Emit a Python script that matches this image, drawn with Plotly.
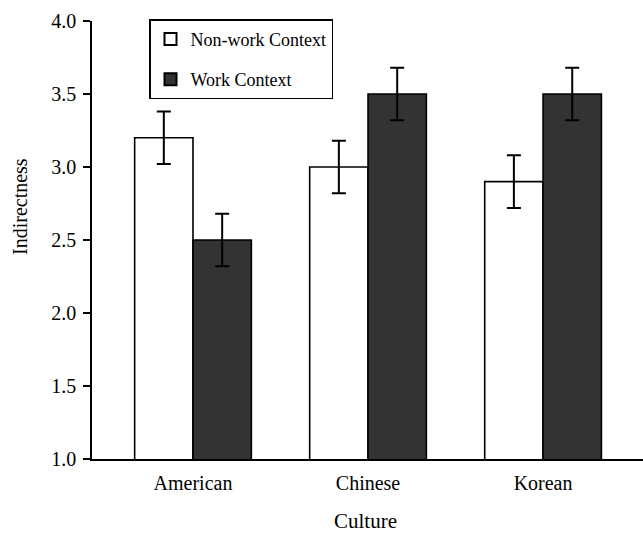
import plotly.graph_objects as go

cultures = ["American", "Chinese", "Korean"]
nonwork = [3.2, 3.0, 2.9]
work = [2.5, 3.5, 3.5]
nonwork_err = [0.18, 0.18, 0.18]
work_err = [0.18, 0.18, 0.18]
y_ticks = [1.0, 1.5, 2.0, 2.5, 3.0, 3.5, 4.0]

font = "Liberation Serif"
W, H = 643, 537
L, R, T, B = 92, 0, 21, 78
pw, ph = W - L - R, H - T - B

fig = go.Figure()
fig.add_trace(go.Bar(
    x=cultures, y=nonwork, name="Non-work Context", legendgroup="a",
    marker=dict(color="white", line=dict(color="black", width=1.6)),
    error_y=dict(type="data", array=nonwork_err, color="black", thickness=2, width=7),
))
fig.add_trace(go.Bar(
    x=cultures, y=work, name="Work Context", legendgroup="b",
    marker=dict(color="#333333", line=dict(color="black", width=1.6)),
    error_y=dict(type="data", array=work_err, color="black", thickness=2, width=7),
))

fig.update_layout(
    width=W, height=H,
    margin=dict(l=L, r=R, t=T, b=B, autoexpand=False),
    paper_bgcolor="white", plot_bgcolor="white",
    barmode="group", bargap=1/3, bargroupgap=0,
    font=dict(family=font, size=18, color="black"),
    legend=dict(
        x=(149 - L) / pw, y=1.004, xanchor="left", yanchor="top",
        bordercolor="black", borderwidth=1.5, bgcolor="white",
        font=dict(family=font, size=18), tracegroupgap=14,
        itemsizing="constant",
    ),
    showlegend=True,
)
fig.update_xaxes(
    range=[-0.577, 2.571], showline=True, linecolor="black", linewidth=1.6,
    ticks="", showgrid=False, zeroline=False, ticklabelstandoff=5,
    tickfont=dict(size=20), automargin=False,
)
fig.update_yaxes(
    range=[1.0, 4.0], tickvals=y_ticks, ticktext=[f"{v:.1f}" for v in y_ticks],
    showline=True, linecolor="black", linewidth=1.6, ticks="outside", ticklen=7,
    tickwidth=1.6, tickcolor="black", showgrid=False, zeroline=False,
    ticklabelstandoff=3, tickfont=dict(size=20), automargin=False,
)
fig.add_annotation(text="Indirectness", x=(20 - L) / pw, y=(H - B - 207) / ph,
                   xref="paper", yref="paper", showarrow=False, textangle=-90,
                   xanchor="center", yanchor="middle", font=dict(size=20))
fig.add_annotation(text="Culture", x=(365 - L) / pw, y=(H - B - 521) / ph,
                   xref="paper", yref="paper", showarrow=False,
                   xanchor="center", yanchor="middle", font=dict(size=21))

fig.write_html("out.html", config={"displayModeBar": False},
               post_script="document.body.style.margin='0';document.body.style.overflow='hidden';")
